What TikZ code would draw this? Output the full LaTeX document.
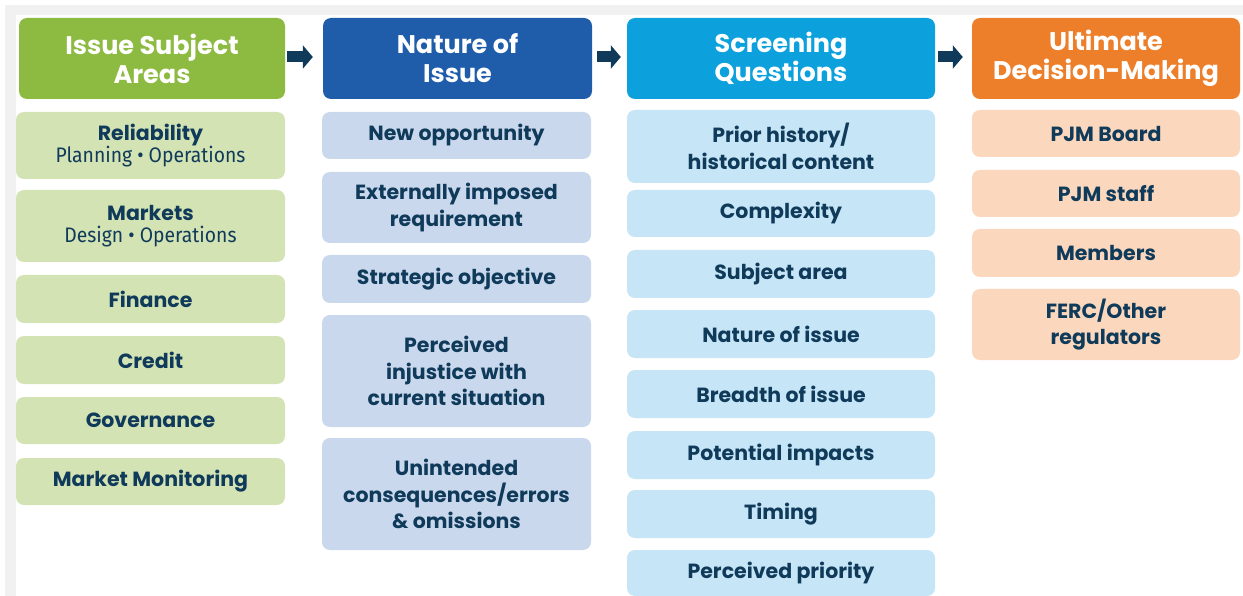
\documentclass[tikz,border=0pt]{standalone}
\usepackage{fontspec}
\setmainfont{Poppins}
\newfontfamily\condfont[FakeStretch=0.92]{Fira Sans}
\usetikzlibrary{arrows.meta}
\definecolor{txt}{HTML}{0F3A5A}
\definecolor{gA}{HTML}{8DBA40}\definecolor{gB}{HTML}{D4E3B4}
\definecolor{bA}{HTML}{1F5DAB}\definecolor{bB}{HTML}{C9D8EC}
\definecolor{cA}{HTML}{0CA0DC}\definecolor{cB}{HTML}{C6E5F6}
\definecolor{oA}{HTML}{EE7F2A}\definecolor{oB}{HTML}{FAD7BD}
\definecolor{frame}{HTML}{F1F1F1}
\newcommand\mycell[7]{%
  \pgfmathsetmacro\cw{#5-#3}\pgfmathsetmacro\ch{#6-#4}%
  \node[#2, minimum width=\cw pt, minimum height=\ch pt] (#1) at ({(#3+#5)/2},{(#4+#6)/2}) {#7};}
\newcommand\subline[1]{{\mdseries\condfont\fontsize{21}{24}\selectfont #1}}
\tikzset{
  box/.style={rounded corners=8pt, inner sep=0pt, align=center, text=txt,
    font=\fontsize{20.5}{26.5}\selectfont\bfseries},
  head/.style={box, text=white, font=\fontsize{25.5}{29}\selectfont\bfseries},
  blockarrow/.style={draw=txt, line width=11pt,
    -{Triangle[length=10pt,width=23pt]}}
}
\begin{document}
\begin{tikzpicture}[x=1pt,y=-1pt]
\useasboundingbox (0,0) rectangle (1243,596);
\clip (0,0) rectangle (1243,596);
\fill[frame] (5,5) rectangle (1243,596);
\fill[white] (16,15) rectangle (1243,596);
% column 1
\mycell{h1}{head, fill=gA}{19}{18}{285}{99}{Issue Subject\\Areas}
\mycell{a1}{box, fill=gB}{16}{112}{285}{179}{Reliability\\[-4pt]\subline{Planning \textbullet{} Operations}}
\mycell{a2}{box, fill=gB}{16}{190}{285}{262}{Markets\\[-4pt]\subline{Design \textbullet{} Operations}}
\mycell{a3}{box, fill=gB}{16}{275}{285}{323}{Finance}
\mycell{a4}{box, fill=gB}{16}{336}{285}{384}{Credit}
\mycell{a5}{box, fill=gB}{16}{397}{285}{444}{Governance}
\mycell{a6}{box, fill=gB}{16}{458}{285}{505}{Market Monitoring}
% column 2
\mycell{h2}{head, fill=bA}{323}{18}{592}{99}{Nature of\\Issue}
\mycell{b1}{box, fill=bB}{322}{112}{591}{159}{New opportunity}
\mycell{b2}{box, fill=bB}{322}{172}{591}{243}{Externally imposed\\requirement}
\mycell{b3}{box, fill=bB}{322}{255}{591}{303}{Strategic objective}
\mycell{b4}{box, fill=bB}{322}{315}{591}{427}{Perceived\\injustice with\\current situation}
\mycell{b5}{box, fill=bB}{322}{438}{591}{550}{Unintended\\consequences/errors\\\& omissions}
% column 3
\mycell{h3}{head, fill=cA}{627}{18}{935}{99}{Screening\\Questions}
\mycell{c1}{box, fill=cB}{627}{110}{935}{183}{Prior history/\\historical content}
\mycell{c2}{box, fill=cB}{627}{190}{935}{237}{Complexity}
\mycell{c3}{box, fill=cB}{627}{250}{935}{298}{Subject area}
\mycell{c4}{box, fill=cB}{627}{310}{935}{358}{Nature of issue}
\mycell{c5}{box, fill=cB}{627}{370}{935}{418}{Breadth of issue}
\mycell{c6}{box, fill=cB}{627}{431}{935}{479}{Potential impacts}
\mycell{c7}{box, fill=cB}{627}{490}{935}{538}{Timing}
\mycell{c8}{box, fill=cB}{627}{550}{935}{596}{Perceived priority}
% column 4
\mycell{h4}{head, fill=oA}{972}{18}{1240}{99}{Ultimate\\Decision-Making}
\mycell{d1}{box, fill=oB}{972}{110}{1240}{157}{PJM Board}
\mycell{d2}{box, fill=oB}{972}{170}{1240}{217}{PJM staff}
\mycell{d3}{box, fill=oB}{972}{229}{1240}{277}{Members}
\mycell{d4}{box, fill=oB}{972}{289}{1240}{360}{FERC/Other\\regulators}
% arrows
\draw[blockarrow, shorten <=2pt, shorten >=10pt] ([yshift=1.5pt]h1.east) -- ([yshift=1.5pt]h2.west);
\draw[blockarrow, shorten <=5pt, shorten >=6pt] ([yshift=1.5pt]h2.east) -- ([yshift=1.5pt]h3.west);
\draw[blockarrow, shorten <=3pt, shorten >=9pt] ([yshift=1.5pt]h3.east) -- ([yshift=1.5pt]h4.west);
\end{tikzpicture}
\end{document}
